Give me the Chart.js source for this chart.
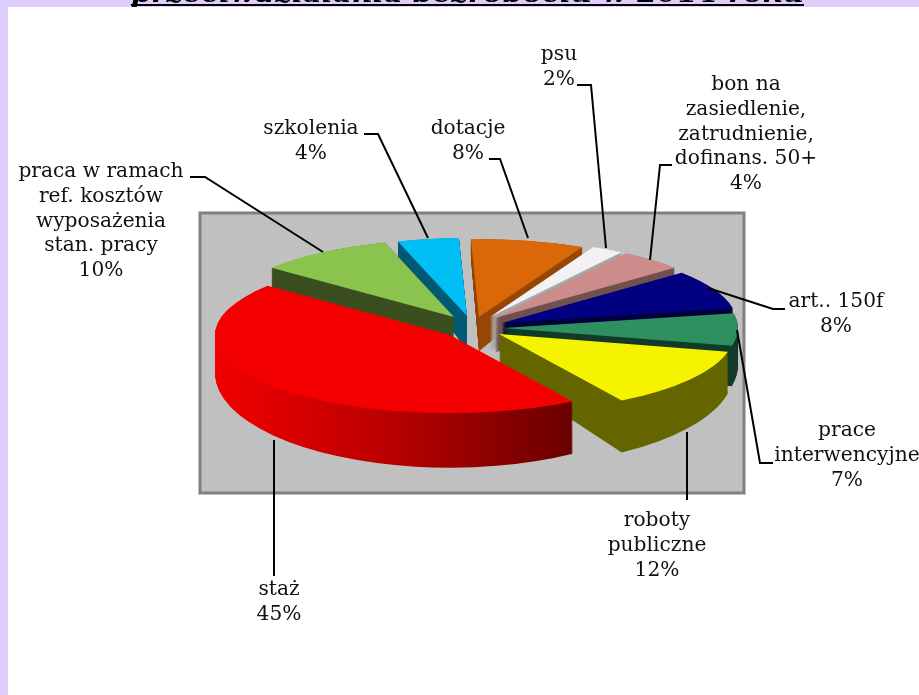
<!DOCTYPE html>
<html>
<head>
<meta charset="utf-8">
<style>
  html, body { margin: 0; padding: 0; background: #fff; }
  #chart { display: block; }
</style>
<script src="https://cdn.jsdelivr.net/npm/chart.js@4/dist/chart.umd.js"></script>
</head>
<body>
<canvas id="chart" width="919" height="695"></canvas>
<script>
// shares (they round to the printed percentages), clockwise from the big red one
const categories = ['staż', 'praca w ramach ref. kosztów wyposażenia stan. pracy', 'szkolenia', 'dotacje', 'psu',
  'bon na zasiedlenie, zatrudnienie, dofinans. 50+', 'art.. 150f', 'prace interwencyjne', 'roboty publiczne'];
const shares = [44.6, 9.4, 4.2, 7.8, 2.2, 4.4, 8.1, 6.7, 12.6];

const titleText = 'przeciwdziałania bezrobociu w 2014 roku';

const topColours = ['#f40000', '#8ac44e', '#00bff5', '#da6708', '#f2f2f2', '#cc8c8c', '#000080', '#2e8f5f', '#f5f300'];
const wallColours = [null, '#3c4f20', '#005a73', '#964706', '#a8a8a8', '#72514f', '#00003c', '#123c2a', '#666600'];
// how far each slice is pulled out of the pie
const explodeX = [-26, -22, -9, 3, 14, 19, 26, 27, 23];
const explodeY = [10, -8, -9, -8, -8, -7, -2, 3, 9];
const paintOrder = [3, 4, 2, 5, 1, 6, 7, 8, 0]; // back to front

// label text lines, centre x, first line y
const labelLines = [
  ['staż', '45%'],
  ['praca w ramach', 'ref. kosztów', 'wyposażenia', 'stan. pracy', '10%'],
  ['szkolenia', '4%'],
  ['dotacje', '8%'],
  ['psu', '2%'],
  ['bon na', 'zasiedlenie,', 'zatrudnienie,', 'dofinans. 50+', '4%'],
  ['art.. 150f', '8%'],
  ['prace', 'interwencyjne', '7%'],
  ['roboty', 'publiczne', '12%'],
];
const labelX = [279, 101, 311, 468, 559, 746, 836, 847, 657];
const labelY = [590, 172, 129, 129, 55, 85, 302, 431, 521];
const leaderLines = [
  [[274, 576], [274, 440]],
  [[190, 177], [205, 177], [323, 252]],
  [[364, 134], [378, 134], [428, 238]],
  [[489, 159], [500, 159], [528, 238]],
  [[577, 85], [591, 85], [606, 248]],
  [[672, 165], [660, 165], [650, 260]],
  [[785, 309], [773, 309], [708, 288]],
  [[773, 463], [760, 463], [737, 330]],
  [[687, 500], [687, 432]],
];

const PLOT = { left: 200, top: 213, right: 744, bottom: 493 };
const DISC = { x: 476, y: 325, rx: 235, ry: 78 };
const WALL = { depth: 36, slope: 0.213, layers: 60 };
const FONT = '20.2px "DejaVu Serif"';

const pagePlugin = {
  id: 'page',
  beforeDraw(chart) {
    const ctx = chart.ctx;
    ctx.save();
    ctx.fillStyle = '#dfcdfd';
    ctx.fillRect(0, 0, 919, 7);
    ctx.fillRect(0, 0, 8, 695);
    ctx.fillStyle = '#c0c0c0';
    ctx.fillRect(PLOT.left, PLOT.top, PLOT.right - PLOT.left, PLOT.bottom - PLOT.top);
    ctx.strokeStyle = '#808080';
    ctx.lineWidth = 3;
    ctx.strokeRect(PLOT.left, PLOT.top, PLOT.right - PLOT.left, PLOT.bottom - PLOT.top);

    // only the bottom of the title is inside the picture
    ctx.fillStyle = '#000';
    ctx.font = 'italic bold 26px "DejaVu Serif"';
    ctx.textAlign = 'left';
    ctx.textBaseline = 'alphabetic';
    const w = ctx.measureText(titleText).width;
    ctx.save();
    ctx.translate(131, 2);
    ctx.scale(673 / w, 1);
    ctx.fillText(titleText, 0, 0);
    ctx.restore();
    ctx.fillRect(131, 4, 673, 2);
    ctx.restore();
  },
};

// squash the library's arcs into a tilted disc and extrude them downwards
const pie3dPlugin = {
  id: 'pie3d',
  beforeDatasetsDraw(chart) {
    const ctx = chart.ctx;
    const arcs = chart.getDatasetMeta(0).data;
    const radius = arcs[0].outerRadius;
    const sx = DISC.rx / radius;
    const sy = DISC.ry / radius;
    const place = (arc, i, t) => {
      const x0 = DISC.x + explodeX[i];
      const y0 = DISC.y + explodeY[i];
      // walls get taller towards the viewer
      const scaleY = sy * (1 + WALL.slope * t);
      const dy = t * (WALL.depth + WALL.slope * (y0 - DISC.y));
      ctx.setTransform(sx, 0, 0, scaleY, x0 - sx * arc.x, y0 + dy - scaleY * arc.y);
    };
    const redWall = ctx.createLinearGradient(arcs[0].x - 233 / sx, 0, arcs[0].x + 124 / sx, 0);
    redWall.addColorStop(0, '#f00000');
    redWall.addColorStop(0.12, '#e40000');
    redWall.addColorStop(0.55, '#b00000');
    redWall.addColorStop(1, '#680000');

    paintOrder.forEach((i) => {
      const arc = arcs[i];
      const saved = arc.options;
      arc.options = { ...saved, backgroundColor: wallColours[i] || redWall };
      for (let t = WALL.layers; t > 0; t--) {
        place(arc, i, t / WALL.layers);
        arc.draw(ctx);
      }
      arc.options = saved;
      place(arc, i, 0);
      arc.draw(ctx);
    });
    ctx.setTransform(1, 0, 0, 1, 0, 0);
    return false;
  },
  afterDraw(chart) {
    const ctx = chart.ctx;
    ctx.save();
    ctx.strokeStyle = '#000';
    ctx.lineWidth = 2;
    leaderLines.forEach((line) => {
      ctx.beginPath();
      line.forEach(([x, y], i) => (i ? ctx.lineTo(x, y) : ctx.moveTo(x, y)));
      ctx.stroke();
    });
    ctx.fillStyle = '#111';
    ctx.font = FONT;
    ctx.textAlign = 'center';
    ctx.textBaseline = 'middle';
    labelLines.forEach((lines, i) => {
      lines.forEach((text, j) => ctx.fillText(text, labelX[i], labelY[i] + j * 24.7));
    });
    ctx.restore();
  },
};

new Chart(document.getElementById('chart'), {
  type: 'pie',
  data: {
    labels: categories,
    datasets: [{
      data: shares,
      backgroundColor: topColours,
      borderWidth: 0,
    }],
  },
  options: {
    responsive: false,
    animation: false,
    rotation: 148.5,
    layout: { padding: 20 },
    plugins: { legend: { display: false }, tooltip: { enabled: false }, title: { display: false } },
  },
  plugins: [pagePlugin, pie3dPlugin],
});
</script>
</body>
</html>
